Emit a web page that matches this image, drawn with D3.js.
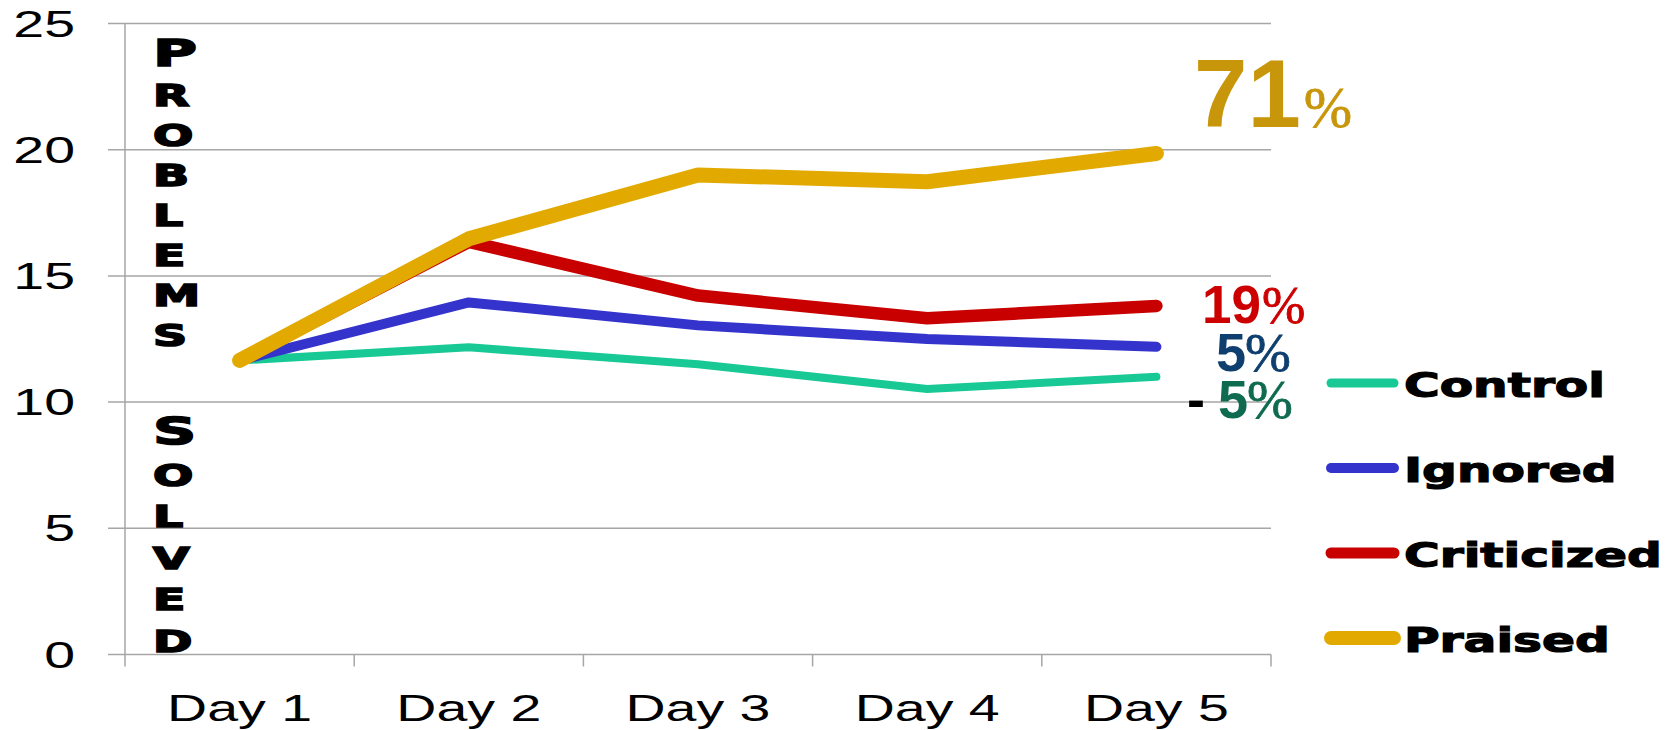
<!DOCTYPE html>
<html>
<head>
<meta charset="utf-8">
<script src="https://cdn.jsdelivr.net/npm/d3@7"></script>
<style>
  body { margin: 0; background: #fff; }
  svg { display: block; }
</style>
</head>
<body>
<svg width="1673" height="730"></svg>
<script>
// chart data
var days = ["Day 1", "Day 2", "Day 3", "Day 4", "Day 5"];
var seriesNames = ["Control", "Ignored", "Criticized", "Praised"];
var control = [11.65, 12.17, 11.5, 10.52, 11.0];
var ignored = [11.65, 13.95, 13.04, 12.5, 12.19];
var criticized = [11.65, 16.35, 14.22, 13.32, 13.81];
var praised = [11.65, 16.47, 19.0, 18.73, 19.85];
var yTicks = [0, 5, 10, 15, 20, 25];
var changeNumbers = ["5", "5", "19", "71"];
var changeSigns = ["-", "", "", ""];
var titleTop = "PROBLEMS";
var titleBottom = "SOLVED";

function main() {
  var svg = d3.select("svg");

  var lineColors = ["#19c995", "#3434cc", "#c80000", "#e2aa00"];
  var lineWidths = [8, 10, 12.5, 15];
  var legendWidths = [9, 10, 11, 14];
  var allSeries = [control, ignored, criticized, praised];

  var xScale = d3.scalePoint().domain(days).range([125, 1271]).padding(0.5);
  var xBand = d3.scaleBand().domain(days).range([125, 1271]);
  var yScale = d3.scaleLinear().domain([0, 25]).range([654.5, 23.5]);

  // text in the source image is stretched sideways
  function wideText(parent, x, y, str, sx) {
    return parent
      .append("g")
      .attr("transform", "translate(" + x + "," + y + ") scale(" + sx + ",1)")
      .append("text")
      .text(str);
  }

  // grid lines
  svg
    .append("g")
    .selectAll("line")
    .data(yTicks)
    .enter()
    .append("line")
    .attr("x1", 108)
    .attr("x2", 1271)
    .attr("y1", function (d) { return yScale(d); })
    .attr("y2", function (d) { return yScale(d); })
    .attr("stroke", "#a6a6a6")
    .attr("stroke-width", 1.5);

  // y axis line
  svg
    .append("line")
    .attr("x1", 125)
    .attr("x2", 125)
    .attr("y1", yScale(25))
    .attr("y2", yScale(0) + 12)
    .attr("stroke", "#a6a6a6")
    .attr("stroke-width", 1.5);

  // x ticks between categories
  svg
    .append("g")
    .selectAll("line")
    .data(days.slice(1).concat(["end"]))
    .enter()
    .append("line")
    .attr("x1", function (d, i) { return i < 4 ? xBand(d) : 1271; })
    .attr("x2", function (d, i) { return i < 4 ? xBand(d) : 1271; })
    .attr("y1", yScale(0))
    .attr("y2", yScale(0) + 12)
    .attr("stroke", "#a6a6a6")
    .attr("stroke-width", 1.5);

  // y tick labels
  yTicks.forEach(function (t) {
    wideText(svg, 75, yScale(t) + 13, String(t), 1.5)
      .attr("text-anchor", "end")
      .style("font-family", "'Liberation Sans', Arial, sans-serif")
      .style("font-size", "37px")
      .attr("fill", "#000");
  });

  // x tick labels
  days.forEach(function (d) {
    wideText(svg, xScale(d), 721, d, 1.5)
      .attr("text-anchor", "middle")
      .style("font-family", "'Liberation Sans', Arial, sans-serif")
      .style("font-size", "37px")
      .attr("fill", "#000");
  });

  // stacked y axis title, heavy like Arial Black
  function titleLetters(word, y0, step) {
    word.split("").forEach(function (ch, i) {
      wideText(svg, 153, y0 + i * step, ch, 1.58)
        .style("font-family", "'DejaVu Sans', sans-serif")
        .style("font-weight", "bold")
        .style("font-size", i === 0 ? "38px" : "30px")
        .attr("fill", "#000")
        .attr("stroke", "#000")
        .attr("stroke-width", 1.6);
    });
  }
  titleLetters(titleTop, 66, 40);
  titleLetters(titleBottom, 444, 41.6);

  // the lines
  var line = d3
    .line()
    .x(function (d, i) { return xScale(days[i]); })
    .y(function (d) { return yScale(d); });

  allSeries.forEach(function (s, k) {
    svg
      .append("path")
      .datum(s)
      .attr("d", line)
      .attr("fill", "none")
      .attr("stroke", lineColors[k])
      .attr("stroke-width", lineWidths[k])
      .attr("stroke-linecap", "round")
      .attr("stroke-linejoin", "round");
  });

  // change labels at the right end
  var numColors = ["#0f6b50", "#0e3f6e", "#cc0000", "#c8960a"];
  var numSizes = [54, 54, 53, 96];
  var pctSizes = [55, 55, 52, 58];
  var numX = [1218, 1216, 1202, 1194];
  var numY = [418, 371, 323, 127];
  var pctGap = [-1, -1, 1, 3];

  changeNumbers.forEach(function (n, k) {
    if (changeSigns[k]) {
      svg
        .append("text")
        .attr("x", 1187)
        .attr("y", numY[k])
        .text(changeSigns[k])
        .style("font-family", "'Liberation Sans', Arial, sans-serif")
        .style("font-weight", "bold")
        .style("font-size", numSizes[k] + "px")
        .attr("fill", "#000");
    }
    var t = svg
      .append("text")
      .attr("x", numX[k])
      .attr("y", numY[k])
      .attr("fill", numColors[k]);
    t.append("tspan")
      .text(n)
      .style("font-family", "'Liberation Sans', Arial, sans-serif")
      .style("font-weight", "bold")
      .style("font-size", numSizes[k] + "px");
    t.append("tspan")
      .attr("dx", pctGap[k])
      .text("%")
      .style("font-family", "'Liberation Serif', 'Times New Roman', serif")
      .style("font-size", pctSizes[k] + "px")
      .attr("stroke", numColors[k])
      .attr("stroke-width", 0.8);
  });

  // legend
  var legend = svg.append("g");
  seriesNames.forEach(function (name, k) {
    var ly = 383 + k * 85;
    legend
      .append("line")
      .attr("x1", 1331)
      .attr("x2", 1394)
      .attr("y1", ly)
      .attr("y2", ly)
      .attr("stroke", lineColors[k])
      .attr("stroke-width", legendWidths[k])
      .attr("stroke-linecap", "round");
    wideText(legend, 1404, ly + 14, name, 1.43)
      .style("font-family", "'DejaVu Sans', sans-serif")
      .style("font-weight", "bold")
      .style("font-size", "34px")
      .attr("fill", "#000")
      .attr("stroke", "#000")
      .attr("stroke-width", 1.2);
  });
}
main();
</script>
</body>
</html>
